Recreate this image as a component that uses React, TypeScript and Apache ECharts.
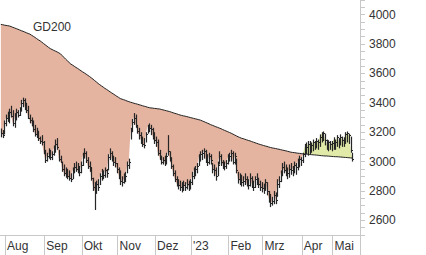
import React, { useEffect, useRef } from 'react';
import * as echarts from 'echarts';

const monthLabels = ['', 'Aug', 'Sep', 'Okt', 'Nov', 'Dez', "'23", 'Feb', 'Mrz', 'Apr', 'Mai'];
const monthTradingDays = [3, 23, 22, 21, 22, 21, 22, 20, 23, 18, 12];
const padDays = 4;
const yTickLabels = [2600, 2800, 3000, 3200, 3400, 3600, 3800, 4000];
const maName = 'GD200';

const close = [
  3195, 3180, 3260, 3300, 3290, 3340, 3310, 3260, 3300, 3340,
  3320, 3360, 3400, 3420, 3370, 3350, 3300, 3280, 3260, 3220,
  3190, 3180, 3160, 3140, 3130, 3070, 3010, 3040, 3050, 3030,
  3050, 3090, 3120, 3100, 3020, 3000, 2950, 2920, 2910, 2900,
  2890, 2880, 2940, 2960, 2950, 2940, 2930, 2980, 3040, 3060,
  3010, 2970, 2960, 2890, 2830, 2800, 2850, 2830, 2900, 2930,
  2910, 2940, 2920, 3030, 3060, 3020, 3000, 2990, 2950, 2910,
  2870, 2860, 2880, 2900, 2980, 3000, 3210, 3270, 3300, 3250,
  3210, 3180, 3150, 3120, 3110, 3190, 3240, 3230, 3220, 3170,
  3150, 3130, 3060, 3030, 3000, 3010, 2990, 3040, 3070, 3020,
  2970, 2920, 2880, 2850, 2840, 2830, 2820, 2840, 2830, 2850,
  2830, 2860, 2900, 2940, 2950, 2970, 3030, 3050, 3060, 3070,
  3020, 3000, 3040, 3010, 2950, 2940, 2900, 2980, 3040, 3000,
  2980, 2970, 2990, 3030, 3040, 3060, 3000, 3040, 2940, 2880,
  2870, 2860, 2870, 2880, 2850, 2840, 2890, 2850, 2830, 2880,
  2890, 2850, 2830, 2820, 2810, 2860, 2800, 2750, 2720, 2730,
  2770, 2740, 2850, 2870, 2920, 2960, 2940, 2930, 2920, 2950,
  2940, 2950, 2980, 2960, 3000, 3020, 3010, 3050, 3100, 3100,
  3120, 3120, 3110, 3130, 3125, 3140, 3135, 3170, 3190, 3195,
  3150, 3125, 3130, 3120, 3125, 3150, 3135, 3165, 3140, 3170,
  3150, 3150, 3190, 3195, 3180, 3080, 3020,
];

const high = [
  3225, 3215, 3280, 3320, 3340, 3360, 3380, 3350, 3330, 3360,
  3350, 3370, 3420, 3435, 3430, 3400, 3380, 3320, 3300, 3280,
  3250, 3230, 3210, 3170, 3180, 3140, 3080, 3060, 3090, 3080,
  3070, 3110, 3150, 3160, 3080, 3040, 3000, 2980, 2960, 2950,
  2940, 2920, 2960, 2990, 3000, 2990, 2970, 3000, 3060, 3090,
  3070, 3030, 3000, 2960, 2890, 2860, 2870, 2880, 2920, 2950,
  2940, 2960, 2950, 3050, 3090, 3070, 3040, 3030, 2990, 2960,
  2940, 2900, 2920, 2930, 3000, 3020, 3230, 3290, 3330, 3320,
  3250, 3230, 3200, 3170, 3160, 3200, 3250, 3260, 3250, 3230,
  3200, 3170, 3150, 3080, 3040, 3030, 3040, 3060, 3180, 3070,
  3030, 2980, 2940, 2900, 2880, 2870, 2860, 2870, 2860, 2880,
  2870, 2880, 2930, 2960, 2970, 2990, 3050, 3070, 3080, 3090,
  3080, 3050, 3060, 3050, 2990, 2980, 2960, 3000, 3070, 3050,
  3010, 3000, 3010, 3050, 3060, 3080, 3070, 3060, 3020, 2930,
  2920, 2910, 2900, 2920, 2900, 2880, 2920, 2900, 2870, 2900,
  2920, 2890, 2870, 2860, 2850, 2880, 2860, 2800, 2780, 2760,
  2800, 2790, 2880, 2900, 2940, 2990, 3000, 2980, 2960, 2980,
  2990, 2970, 3000, 2990, 3020, 3040, 3030, 3060, 3120, 3130,
  3140, 3140, 3130, 3150, 3140, 3160, 3150, 3185, 3200, 3205,
  3190, 3150, 3145, 3140, 3140, 3165, 3150, 3180, 3160, 3185,
  3170, 3165, 3200, 3205, 3190, 3170, 3060,
];

const low = [
  3165, 3160, 3185, 3240, 3270, 3260, 3300, 3240, 3230, 3280,
  3300, 3310, 3340, 3370, 3350, 3330, 3290, 3260, 3240, 3200,
  3170, 3160, 3140, 3120, 3110, 3050, 2990, 3000, 3020, 3010,
  3010, 3040, 3060, 3080, 3000, 2990, 2930, 2900, 2890, 2880,
  2870, 2860, 2880, 2920, 2930, 2920, 2900, 2920, 2970, 3020,
  2990, 2950, 2930, 2870, 2800, 2670, 2780, 2800, 2840, 2870,
  2880, 2890, 2890, 2940, 3010, 3000, 2970, 2960, 2920, 2880,
  2840, 2830, 2850, 2860, 2920, 2950, 3150, 3200, 3250, 3230,
  3190, 3150, 3120, 3100, 3090, 3130, 3190, 3200, 3180, 3150,
  3120, 3100, 3040, 3010, 2980, 2980, 2970, 2980, 3040, 3000,
  2950, 2900, 2860, 2830, 2810, 2800, 2790, 2800, 2800, 2810,
  2800, 2810, 2840, 2880, 2900, 2920, 2970, 3000, 3010, 3020,
  2990, 2970, 2980, 2980, 2920, 2900, 2870, 2900, 2980, 2970,
  2950, 2940, 2950, 2980, 3000, 3000, 2980, 2980, 2920, 2850,
  2840, 2830, 2830, 2840, 2830, 2810, 2830, 2820, 2800, 2820,
  2840, 2820, 2800, 2790, 2780, 2800, 2770, 2720, 2690, 2700,
  2710, 2710, 2760, 2820, 2860, 2900, 2920, 2900, 2880, 2890,
  2910, 2900, 2920, 2910, 2940, 2960, 2970, 2990, 3030, 3050,
  3040, 3050, 3060, 3070, 3080, 3090, 3080, 3100, 3130, 3140,
  3110, 3080, 3070, 3080, 3070, 3080, 3080, 3100, 3090, 3110,
  3100, 3100, 3120, 3130, 3120, 3060, 3000,
];

const ma200 = [
  3934, 3932, 3929, 3927, 3925, 3923, 3919, 3914, 3910, 3905,
  3901, 3896, 3891, 3887, 3882, 3877, 3872, 3868, 3860, 3853,
  3845, 3837, 3829, 3822, 3813, 3804, 3795, 3786, 3777, 3769,
  3763, 3757, 3752, 3746, 3740, 3733, 3721, 3709, 3697, 3686,
  3675, 3664, 3657, 3649, 3641, 3634, 3626, 3618, 3610, 3603,
  3595, 3587, 3579, 3570, 3561, 3551, 3542, 3532, 3523, 3515,
  3507, 3498, 3491, 3483, 3475, 3467, 3460, 3452, 3444, 3437,
  3429, 3425, 3421, 3417, 3412, 3408, 3404, 3401, 3397, 3394,
  3391, 3387, 3384, 3380, 3377, 3374, 3370, 3367, 3365, 3364,
  3362, 3361, 3359, 3358, 3355, 3352, 3349, 3346, 3343, 3340,
  3336, 3332, 3328, 3325, 3321, 3317, 3314, 3311, 3309, 3306,
  3303, 3300, 3297, 3294, 3291, 3288, 3285, 3282, 3277, 3272,
  3267, 3262, 3257, 3251, 3247, 3242, 3237, 3233, 3228, 3224,
  3218, 3213, 3208, 3203, 3198, 3193, 3187, 3181, 3175, 3169,
  3164, 3159, 3156, 3152, 3148, 3144, 3141, 3136, 3132, 3128,
  3124, 3120, 3116, 3113, 3109, 3106, 3103, 3099, 3096, 3093,
  3091, 3089, 3086, 3084, 3081, 3078, 3076, 3073, 3070, 3067,
  3064, 3062, 3061, 3059, 3057, 3056, 3054, 3053, 3052, 3051,
  3050, 3048, 3047, 3046, 3045, 3044, 3043, 3041, 3040, 3039,
  3038, 3038, 3037, 3036, 3035, 3034, 3033, 3033, 3032, 3031,
  3030, 3029, 3028, 3027, 3026, 3025, 3024,
];

const FONT = '"Liberation Sans", Arial, sans-serif';
const AXIS_GRAY = '#c8c8c8';
const TEXT = '#333333';
const BAR = '#262626';

export default function App() {
  const ref = useRef<HTMLDivElement>(null);

  useEffect(() => {
    if (!ref.current) return;
    const chart = echarts.init(ref.current, null, { renderer: 'svg' });

    const categories: string[] = [];
    const monthStart: Record<number, string> = {};
    monthTradingDays.forEach((n, m) => {
      for (let d = 0; d < n; d++) {
        if (d === 0 && monthLabels[m]) monthStart[categories.length] = monthLabels[m];
        categories.push(`${m}-${d}`);
      }
    });
    for (let p = 0; p < padDays; p++) categories.push(`pad-${p}`);

    const base = close.map((c, i) => Math.min(c, ma200[i]));
    const below = close.map((c, i) => Math.max(ma200[i] - c, 0));
    const above = close.map((c, i) => Math.max(c - ma200[i], 0));
    const bars = close.map((c, i) => [i, low[i], high[i], c]);

    const isMonthStart = (idx: number) => monthStart[idx] !== undefined;

    chart.setOption({
      animation: false,
      grid: { left: 0, right: 66, top: 0, bottom: 20, containLabel: false },
      xAxis: {
        type: 'category',
        data: categories,
        boundaryGap: true,
        axisLine: { show: true, lineStyle: { color: AXIS_GRAY, width: 1 } },
        axisTick: {
          show: true,
          interval: (idx: number) => isMonthStart(idx),
          length: 20,
          lineStyle: { color: AXIS_GRAY, width: 1 },
        },
        axisLabel: {
          interval: (idx: number) => isMonthStart(idx),
          formatter: (_v: string, idx: number) => monthStart[idx] ?? '',
          align: 'left',
          padding: [0, 0, 0, 1],
          margin: 5,
          color: TEXT,
          fontSize: 12,
          fontFamily: FONT,
        },
        splitLine: { show: false },
      },
      yAxis: {
        type: 'value',
        position: 'right',
        min: 2500,
        max: 4100,
        interval: 50,
        scale: false,
        splitLine: { show: false },
        axisLine: { show: true, lineStyle: { color: AXIS_GRAY, width: 1 } },
        axisTick: { show: true, length: 5, lineStyle: { color: AXIS_GRAY, width: 1 } },
        axisLabel: {
          margin: 9,
          color: TEXT,
          fontSize: 12,
          fontFamily: FONT,
          formatter: (v: number) => (yTickLabels.includes(v) ? String(v) : ''),
        },
      },
      graphic: [
        {
          type: 'line',
          shape: { x1: 360.5, y1: 235, x2: 360.5, y2: 255 },
          style: { stroke: AXIS_GRAY, lineWidth: 1 },
          silent: true,
        },
        {
          type: 'text',
          left: 33,
          top: 21,
          style: { text: maName, fill: TEXT, fontSize: 12, fontFamily: FONT },
          silent: true,
        },
      ],
      series: [
        {
          name: 'base',
          type: 'line',
          stack: 'band',
          data: base,
          symbol: 'none',
          lineStyle: { width: 0, opacity: 0 },
          silent: true,
          z: 1,
        },
        {
          name: 'below',
          type: 'line',
          stack: 'band',
          data: below,
          symbol: 'none',
          lineStyle: { width: 0, opacity: 0 },
          areaStyle: { color: '#e5b4a1', opacity: 1 },
          silent: true,
          z: 1,
        },
        {
          name: 'above',
          type: 'line',
          stack: 'band',
          data: above,
          symbol: 'none',
          lineStyle: { width: 0, opacity: 0 },
          areaStyle: { color: '#e2eaa9', opacity: 1 },
          silent: true,
          z: 1,
        },
        {
          name: maName,
          type: 'line',
          data: ma200,
          symbol: 'none',
          lineStyle: { color: '#222222', width: 1 },
          silent: true,
          z: 3,
        },
        {
          name: 'Kurs',
          type: 'custom',
          data: bars,
          encode: { x: 0, y: [1, 2, 3] },
          silent: true,
          z: 4,
          renderItem: (_params: any, api: any) => {
            const i = api.value(0);
            const lo = api.coord([i, api.value(1)]);
            const hi = api.coord([i, api.value(2)]);
            const cl = api.coord([i, api.value(3)]);
            const x = Math.round(lo[0]) + 0.5;
            const cy = Math.round(cl[1]) + 0.5;
            return {
              type: 'group',
              children: [
                {
                  type: 'line',
                  shape: { x1: x, y1: lo[1], x2: x, y2: hi[1] },
                  style: { stroke: BAR, lineWidth: 1.2 },
                },
                {
                  type: 'line',
                  shape: { x1: x - 0.5, y1: cy, x2: x + 1.5, y2: cy },
                  style: { stroke: BAR, lineWidth: 1 },
                },
              ],
            };
          },
        },
      ],
    });

    return () => chart.dispose();
  }, []);

  return (
    <div
      ref={ref}
      style={{ position: 'fixed', left: 0, top: 0, width: 426, height: 255, background: '#ffffff' }}
    />
  );
}
